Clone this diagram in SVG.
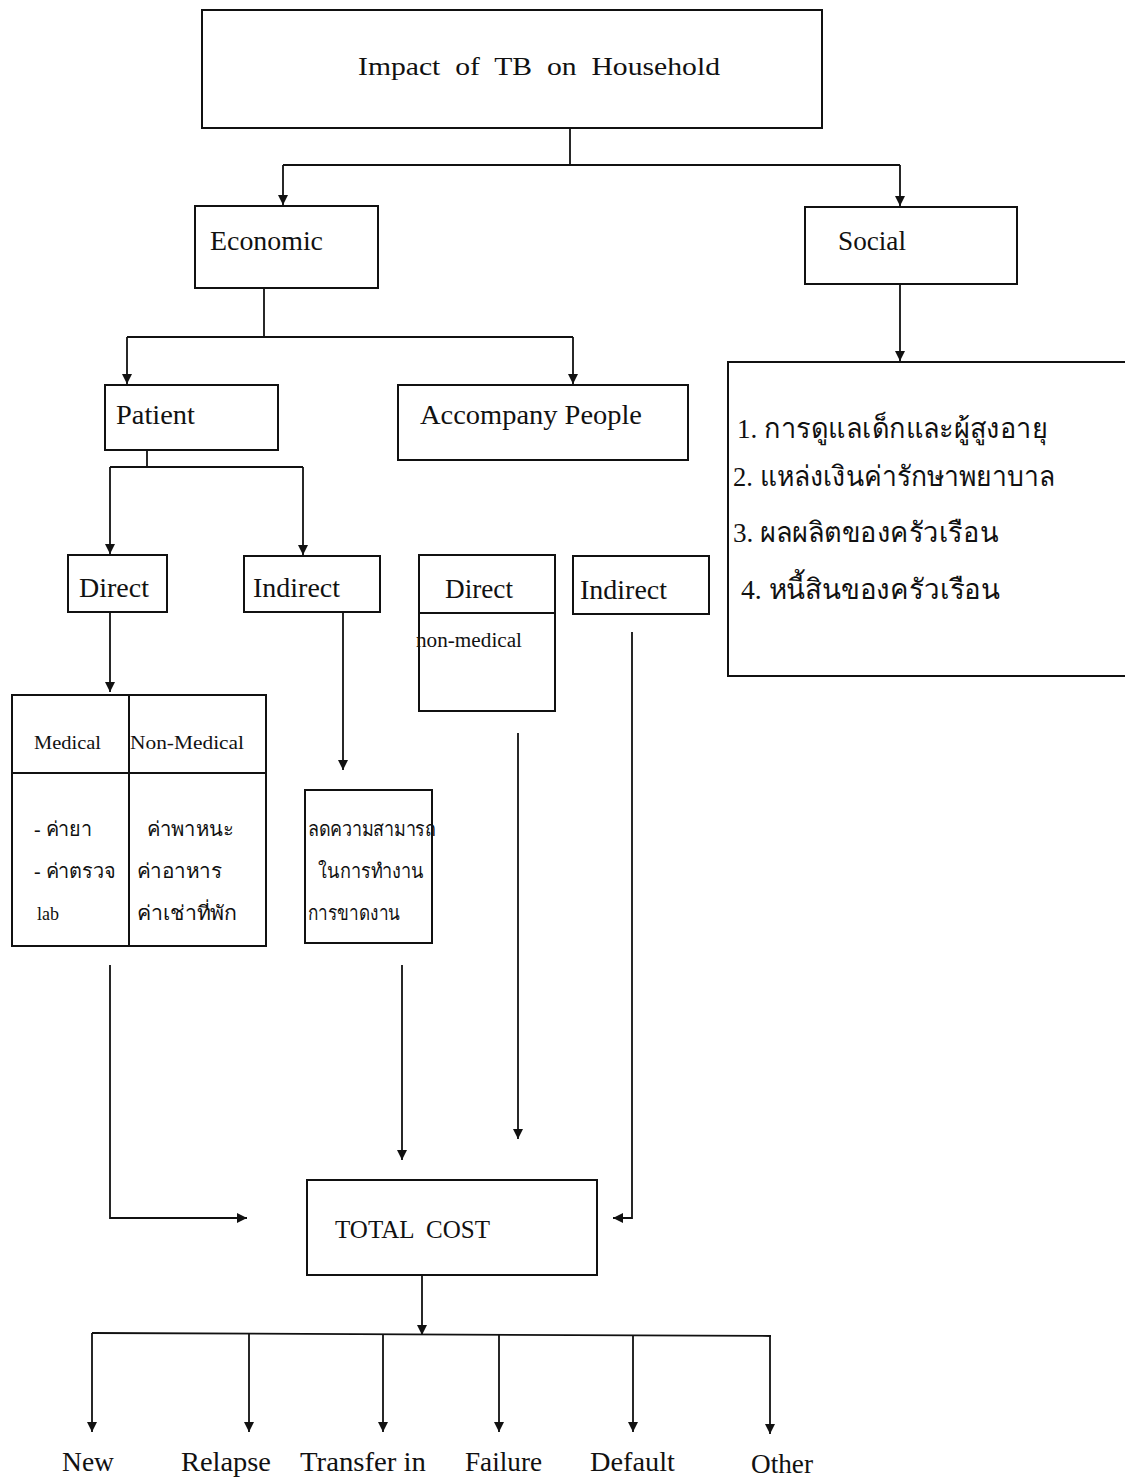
<svg xmlns="http://www.w3.org/2000/svg" width="1125" height="1477" viewBox="0 0 1125 1477">
<style>
.box{fill:none;stroke:#111;stroke-width:2}
.ln{fill:none;stroke:#111;stroke-width:1.8}
.t{font-family:"Liberation Serif",serif;fill:#111}
.th{font-family:"Liberation Serif","Noto Sans","DejaVu Sans",serif;fill:#111}
</style>
<defs>
<marker id="ah" markerUnits="userSpaceOnUse" markerWidth="12" markerHeight="12" refX="10" refY="5" orient="auto">
<path d="M0,0 L10,5 L0,10 Z" fill="#111"/>
</marker>
</defs>
<rect width="1125" height="1477" fill="#fff"/>

<g id="impact"><rect class="box" x="202" y="10" width="620" height="118"/><text class="t" x="358" y="75" font-size="26" textLength="362" lengthAdjust="spacingAndGlyphs" xml:space="preserve">Impact  of  TB  on  Household</text></g>
<g id="economic"><rect class="box" x="195" y="206" width="183" height="82"/><text class="t" x="210" y="250" font-size="27" textLength="113" lengthAdjust="spacingAndGlyphs">Economic</text></g>
<g id="social"><rect class="box" x="805" y="207" width="212" height="77"/><text class="t" x="838" y="250" font-size="27" textLength="68" lengthAdjust="spacingAndGlyphs">Social</text></g>
<g id="patient"><rect class="box" x="105" y="385" width="173" height="65"/><text class="t" x="116" y="424" font-size="27" textLength="79" lengthAdjust="spacingAndGlyphs">Patient</text></g>
<g id="accompany"><rect class="box" x="398" y="385" width="290" height="75"/><text class="t" x="420" y="424" font-size="27" textLength="222" lengthAdjust="spacingAndGlyphs">Accompany People</text></g>
<g id="social-list"><rect class="box" x="728" y="362" width="410" height="314"/>
<text class="th" x="737" y="438" font-size="28" textLength="310" lengthAdjust="spacingAndGlyphs">1. การดูแลเด็กและผู้สูงอายุ</text>
<text class="th" x="733" y="486" font-size="28" textLength="322" lengthAdjust="spacingAndGlyphs">2. แหล่งเงินค่ารักษาพยาบาล</text>
<text class="th" x="733" y="542" font-size="28" textLength="265" lengthAdjust="spacingAndGlyphs">3. ผลผลิตของครัวเรือน</text>
<text class="th" x="741" y="599" font-size="28" textLength="259" lengthAdjust="spacingAndGlyphs">4. หนี้สินของครัวเรือน</text></g>
<g id="p-direct"><rect class="box" x="68" y="555" width="99" height="57"/><text class="t" x="79" y="597" font-size="27" textLength="70" lengthAdjust="spacingAndGlyphs">Direct</text></g>
<g id="p-indirect"><rect class="box" x="244" y="556" width="136" height="56"/><text class="t" x="253" y="597" font-size="27" textLength="87" lengthAdjust="spacingAndGlyphs">Indirect</text></g>
<g id="a-direct"><rect class="box" x="419" y="555" width="136" height="156"/><line class="box" x1="419" y1="613" x2="555" y2="613"/><text class="t" x="445" y="598" font-size="27" textLength="68" lengthAdjust="spacingAndGlyphs">Direct</text><text class="t" x="416" y="647" font-size="20" textLength="106" lengthAdjust="spacingAndGlyphs">non-medical</text></g>
<g id="a-indirect"><rect class="box" x="573" y="556" width="136" height="58"/><text class="t" x="580" y="599" font-size="27" textLength="87" lengthAdjust="spacingAndGlyphs">Indirect</text></g>
<g id="medical-table"><rect class="box" x="12" y="695" width="254" height="251"/><line class="box" x1="129" y1="695" x2="129" y2="946"/><line class="box" x1="12" y1="773" x2="266" y2="773"/>
<text class="t" x="34" y="749" font-size="19" textLength="67" lengthAdjust="spacingAndGlyphs">Medical</text><text class="t" x="130" y="749" font-size="19" textLength="114" lengthAdjust="spacingAndGlyphs">Non-Medical</text>
<text class="th" x="34" y="836" font-size="20" textLength="58" lengthAdjust="spacingAndGlyphs">- ค่ายา</text><text class="th" x="34" y="878" font-size="20" textLength="82" lengthAdjust="spacingAndGlyphs">- ค่าตรวจ</text><text class="t" x="37" y="920" font-size="18">lab</text>
<text class="th" x="147" y="836" font-size="20" textLength="87" lengthAdjust="spacingAndGlyphs">ค่าพาหนะ</text><text class="th" x="137" y="878" font-size="20" textLength="85" lengthAdjust="spacingAndGlyphs">ค่าอาหาร</text><text class="th" x="137" y="920" font-size="20" textLength="100" lengthAdjust="spacingAndGlyphs">ค่าเช่าที่พัก</text></g>
<g id="indirect-box"><rect class="box" x="305" y="790" width="127" height="153"/>
<text class="th" x="308" y="836" font-size="20" textLength="128" lengthAdjust="spacingAndGlyphs">ลดความสามารถ</text><text class="th" x="318" y="878" font-size="20" textLength="106" lengthAdjust="spacingAndGlyphs">ในการทำงาน</text><text class="th" x="308" y="920" font-size="20" textLength="92" lengthAdjust="spacingAndGlyphs">การขาดงาน</text></g>
<g id="total"><rect class="box" x="307" y="1180" width="290" height="95"/><text class="t" x="335" y="1238" font-size="26" textLength="155" lengthAdjust="spacingAndGlyphs" xml:space="preserve">TOTAL  COST</text></g>
<g id="outcomes" class="t" font-size="27">
<text x="62" y="1471" textLength="52" lengthAdjust="spacingAndGlyphs">New</text><text x="181" y="1471" textLength="90" lengthAdjust="spacingAndGlyphs">Relapse</text><text x="300" y="1471" textLength="126" lengthAdjust="spacingAndGlyphs">Transfer in</text><text x="465" y="1471" textLength="77" lengthAdjust="spacingAndGlyphs">Failure</text><text x="590" y="1471" textLength="85" lengthAdjust="spacingAndGlyphs">Default</text><text x="751" y="1473" textLength="62" lengthAdjust="spacingAndGlyphs">Other</text></g>

<g id="connectors">
<polyline class="ln" points="570,128 570,165"/>
<polyline class="ln" points="283,165 900,165"/>
<line class="ln" x1="283" y1="165" x2="283" y2="205" marker-end="url(#ah)"/>
<line class="ln" x1="900" y1="165" x2="900" y2="206" marker-end="url(#ah)"/>
<polyline class="ln" points="264,288 264,337"/>
<polyline class="ln" points="127,337 573,337"/>
<line class="ln" x1="127" y1="337" x2="127" y2="384" marker-end="url(#ah)"/>
<line class="ln" x1="573" y1="337" x2="573" y2="384" marker-end="url(#ah)"/>
<line class="ln" x1="900" y1="284" x2="900" y2="361" marker-end="url(#ah)"/>
<polyline class="ln" points="147,450 147,467"/>
<polyline class="ln" points="110,467 303,467"/>
<line class="ln" x1="110" y1="467" x2="110" y2="554" marker-end="url(#ah)"/>
<line class="ln" x1="303" y1="467" x2="303" y2="555" marker-end="url(#ah)"/>
<line class="ln" x1="110" y1="612" x2="110" y2="692" marker-end="url(#ah)"/>
<line class="ln" x1="343" y1="612" x2="343" y2="770" marker-end="url(#ah)"/>
<line class="ln" x1="518" y1="733" x2="518" y2="1139" marker-end="url(#ah)"/>
<polyline class="ln" points="632,632 632,1218 613,1218" marker-end="url(#ah)"/>
<polyline class="ln" points="110,965 110,1218 247,1218" marker-end="url(#ah)"/>
<line class="ln" x1="402" y1="965" x2="402" y2="1160" marker-end="url(#ah)"/>
<line class="ln" x1="422" y1="1275" x2="422" y2="1335" marker-end="url(#ah)"/>
<polyline class="ln" points="92,1333 771,1336"/>
<line class="ln" x1="92" y1="1333" x2="92" y2="1432" marker-end="url(#ah)"/>
<line class="ln" x1="249" y1="1334" x2="249" y2="1432" marker-end="url(#ah)"/>
<line class="ln" x1="383" y1="1334" x2="383" y2="1432" marker-end="url(#ah)"/>
<line class="ln" x1="499" y1="1335" x2="499" y2="1432" marker-end="url(#ah)"/>
<line class="ln" x1="633" y1="1335" x2="633" y2="1432" marker-end="url(#ah)"/>
<line class="ln" x1="770" y1="1336" x2="770" y2="1434" marker-end="url(#ah)"/>
</g>
</svg>
